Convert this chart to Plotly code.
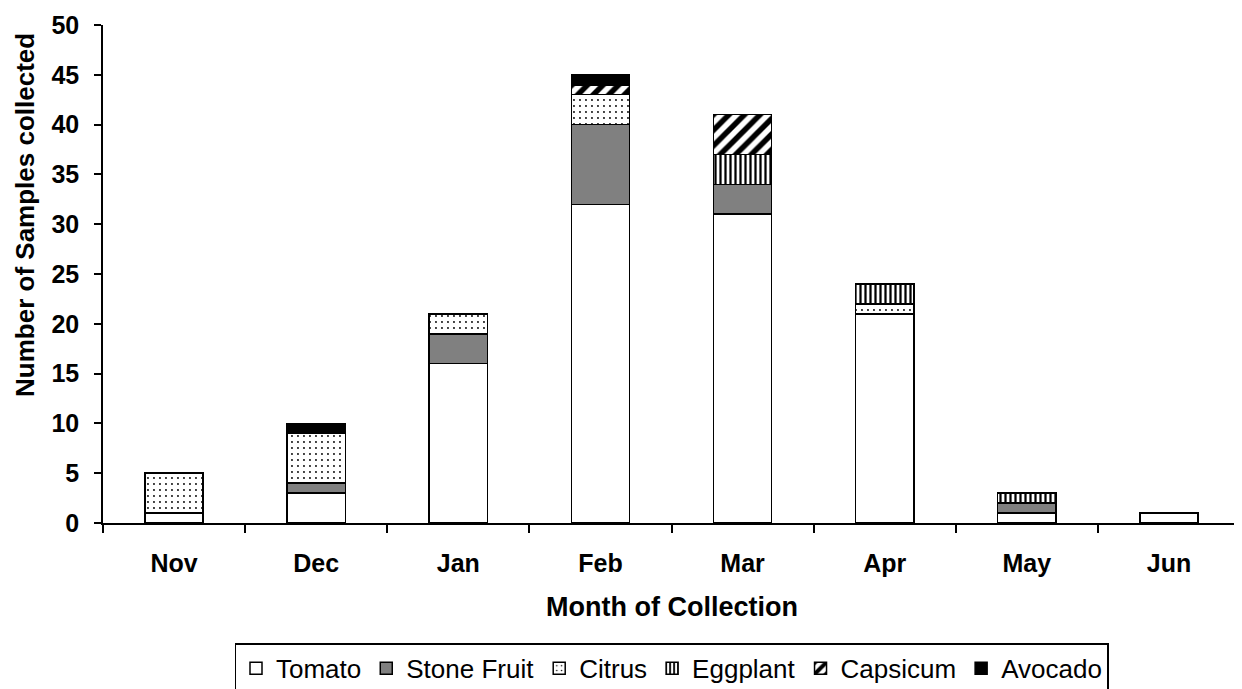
import plotly.graph_objects as go

months = ["Nov", "Dec", "Jan", "Feb", "Mar", "Apr", "May", "Jun"]
tomato = [1, 3, 16, 32, 31, 21, 1, 1]
stone_fruit = [None, 1, 3, 8, 3, None, 1, None]
citrus = [4, 5, 2, 3, None, 1, None, None]
eggplant = [None, None, None, None, 3, 2, 1, None]
capsicum = [None, None, None, 1, 4, None, None, None]
avocado = [None, 1, None, 1, None, None, None, None]

series = [
    ("Tomato", tomato, "white", None),
    ("Stone Fruit", stone_fruit, "#808080", None),
    ("Citrus", citrus, "white", dict(shape=".", size=6, solidity=0.08)),
    ("Eggplant", eggplant, "white", dict(shape="|", size=5, solidity=0.45)),
    ("Capsicum", capsicum, "white", dict(shape="/", size=11, solidity=0.5)),
    ("Avocado", avocado, "black", None),
]

fig = go.Figure()
for name, vals, color, pat in series:
    marker = dict(color=color, line=dict(color="black", width=1.5))
    if pat:
        marker["pattern"] = dict(fgcolor="black", bgcolor="white", fillmode="overlay",
                                 fgopacity=1, **pat)
    fig.add_trace(go.Bar(x=months, y=vals, name=name, marker=marker, width=0.41))

font = "Liberation Sans, Arial, sans-serif"
fig.update_layout(
    barmode="stack",
    width=1242, height=689,
    margin=dict(l=95, r=10, t=17, b=174),
    plot_bgcolor="white", paper_bgcolor="white",
    font=dict(family=font, color="black", size=25),
    xaxis=dict(
        automargin=False,
        showline=True, linecolor="black", linewidth=1.5,
        ticks="outside", ticklen=8, tickcolor="black", tickwidth=1.5,
        tickson="boundaries", showgrid=False,
        ticklabelstandoff=17,
        tickfont=dict(size=25, weight="bold"),
    ),
    yaxis=dict(
        automargin=False,
        range=[0, 50], dtick=5,
        showline=True, linecolor="black", linewidth=1.5,
        ticks="outside", ticklen=7, tickcolor="black", tickwidth=1.5,
        showgrid=False, zeroline=False,
        ticklabelstandoff=10,
        tickfont=dict(size=25, weight="bold"),
    ),
    annotations=[
        dict(text="Month of Collection", xref="paper", yref="paper", x=0.5, y=-0.169,
             xanchor="center", yanchor="middle", showarrow=False,
             font=dict(size=27, weight="bold")),
        dict(text="Number of Samples collected", xref="paper", yref="paper", x=-0.068, y=0.618,
             xanchor="center", yanchor="middle", showarrow=False, textangle=-90,
             font=dict(size=26, weight="bold")),
    ],
    legend=dict(
        orientation="h", x=0.5, xanchor="center", xref="paper",
        y=0.078, yanchor="top", yref="container",
        bordercolor="black", borderwidth=1.5,
        font=dict(size=26), traceorder="normal",
        itemwidth=30, tracegroupgap=0,
    ),
)
fig.write_html("out.html")
